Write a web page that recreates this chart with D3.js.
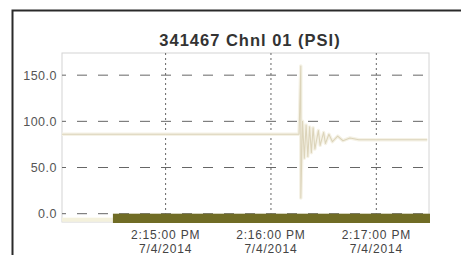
<!DOCTYPE html>
<html lang="en">
<head>
  <meta charset="UTF-8" />
  <title>341467 Chnl 01 (PSI)</title>
  <script src="https://cdn.jsdelivr.net/npm/d3@7/dist/d3.min.js"></script>
  <style>
    body { margin: 0; background: #fff; }
    svg { display: block; font-family: 'Liberation Sans', Arial, sans-serif; }
  </style>
</head>
<body>
  <svg width="461" height="255"></svg>

  <script>
    // chart data
    const title = '341467 Chnl 01 (PSI)';
    const yTicks = [0, 50, 100, 150];
    const xTicks = ['15:00', '16:00', '17:00'];

    // pressure trace: time (mm:ss after 14:00) and psi
    const pTimes = ['14:01', '15:00', '16:00', '16:16.8', '16:17.2', '16:17.6', '16:17.9', '16:18.6',
      '16:19.4', '16:20.4', '16:21.4', '16:22.4', '16:23.4', '16:24.6', '16:25.8', '16:27.0',
      '16:28.4', '16:30.0', '16:31.6', '16:33.5', '16:35.5', '16:38.0', '16:41.0', '16:45.0',
      '16:50.0', '17:00', '17:29'];
    const pValues = [86, 86, 86, 86, 160, 86, 17, 100,
      60, 96, 62, 94, 66, 93, 70, 90,
      74, 88, 76, 86, 78, 84, 79, 82,
      80, 80, 80];

    // bottom status bar
    const barStart = '14:30';
    const barEnd = '17:30';

    const svg = d3.select('svg');
    const parse = (s) => {
      const [m, sec] = s.split(':');
      return new Date(2014, 6, 4, 14, +m, +sec);
    };

    const x = d3.scaleTime().domain([parse('14:01'), parse('17:30')]).range([62, 429]);
    const y = d3.scaleLinear().domain([-9, 174]).range([222, 53]);

    // outer frame
    svg.append('rect')
      .attr('x', 12.5).attr('y', 10.5)
      .attr('width', 470).attr('height', 260)
      .attr('fill', 'none').attr('stroke', '#2a2a2a').attr('stroke-width', 2);

    svg.append('text')
      .attr('x', 250).attr('y', 46)
      .attr('text-anchor', 'middle')
      .style('font-size', '16.5px').style('font-weight', 'bold')
      .style('letter-spacing', '1px')
      .attr('fill', '#333')
      .text(title);

    // plot box
    svg.append('rect')
      .attr('x', x.range()[0]).attr('y', y.range()[1])
      .attr('width', x.range()[1] - x.range()[0])
      .attr('height', y.range()[0] - y.range()[1])
      .attr('fill', 'none').attr('stroke', '#d4d4d4');

    // horizontal dashed grid
    svg.append('g').selectAll('line').data(yTicks).enter().append('line')
      .attr('x1', x.range()[0] + 4).attr('x2', x.range()[1])
      .attr('y1', (d) => y(d)).attr('y2', (d) => y(d))
      .attr('stroke', '#666').attr('stroke-width', 1)
      .attr('stroke-dasharray', '0,11,10,0');

    // vertical dotted grid
    svg.append('g').selectAll('line').data(xTicks).enter().append('line')
      .attr('x1', (d) => x(parse(d))).attr('x2', (d) => x(parse(d)))
      .attr('y1', y.range()[1]).attr('y2', y(0))
      .attr('stroke', '#666').attr('stroke-width', 1)
      .attr('stroke-dasharray', '2,3');

    // y axis ticks and labels
    const yg = svg.append('g');
    yg.selectAll('line').data(yTicks).enter().append('line')
      .attr('x1', x.range()[0]).attr('x2', x.range()[0] + 4)
      .attr('y1', (d) => y(d)).attr('y2', (d) => y(d))
      .attr('stroke', '#666').attr('stroke-width', 1);
    yg.selectAll('text').data(yTicks).enter().append('text')
      .attr('x', 57).attr('y', (d) => y(d) + 4.5)
      .attr('text-anchor', 'end')
      .style('font-size', '12.5px')
      .style('letter-spacing', '0.5px')
      .attr('fill', '#555')
      .text((d) => d3.format('.1f')(d));

    // x labels
    const xg = svg.append('g').selectAll('text').data(xTicks).enter().append('text')
      .attr('text-anchor', 'middle')
      .style('font-size', '12px')
      .style('letter-spacing', '0.8px')
      .attr('fill', '#444');
    xg.append('tspan').attr('x', (d) => x(parse(d))).attr('y', 239)
      .text((d) => d3.timeFormat('%-I:%M:%S %p')(parse(d)));
    xg.append('tspan').attr('x', (d) => x(parse(d))).attr('y', 253)
      .text((d) => d3.timeFormat('%-m/%-d/%Y')(parse(d)));

    // bottom status bar
    svg.append('rect')
      .attr('x', x.range()[0]).attr('y', y(0) + 4)
      .attr('width', x(parse(barStart)) - x.range()[0]).attr('height', 4)
      .attr('fill', '#f4f1dc');
    svg.append('rect')
      .attr('x', x(parse(barStart))).attr('y', y(0))
      .attr('width', x(parse(barEnd)) - x(parse(barStart)) + 1)
      .attr('height', y.range()[0] - y(0) + 1)
      .attr('fill', '#706c25');

    // pressure trace
    const pts = pTimes.map((t, i) => ({ t: parse(t), v: pValues[i] }));
    const line = d3.line().x((d) => x(d.t)).y((d) => y(d.v));
    svg.append('path').datum(pts)
      .attr('d', line)
      .attr('fill', 'none')
      .attr('stroke', '#f5f2e6').attr('stroke-width', 3.5)
      .attr('stroke-linejoin', 'round');
    svg.append('path').datum(pts)
      .attr('d', line)
      .attr('fill', 'none')
      .attr('stroke', '#dcd4ba').attr('stroke-width', 1.1)
      .attr('stroke-linejoin', 'round');
  </script>
</body>
</html>
